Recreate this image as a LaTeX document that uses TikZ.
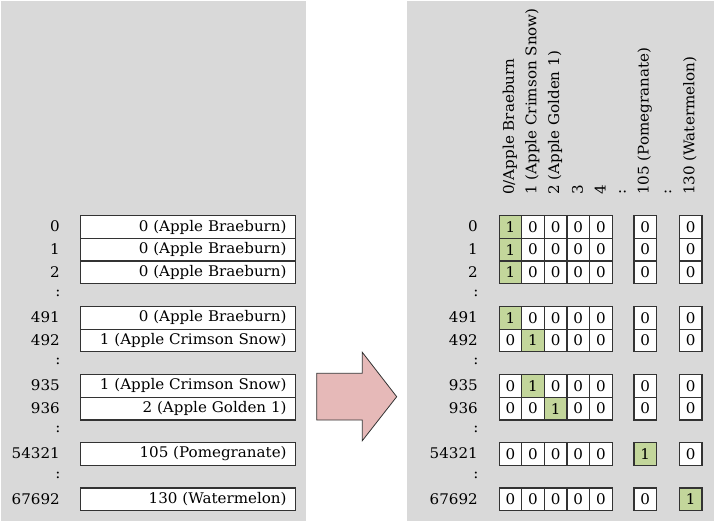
\documentclass[tikz,border=0pt]{standalone}
\usepackage{fontspec}
\setmainfont{DejaVu Serif}[FakeStretch=1.03]
\definecolor{panelgray}{HTML}{D9D9D9}
\definecolor{hitgreen}{HTML}{C3D69B}
\definecolor{arrowpink}{HTML}{E6B9B8}
\definecolor{edgegray}{HTML}{333333}
\begin{document}
\begin{tikzpicture}[x=0.75pt,y=-0.75pt,
  font=\fontsize{11}{13}\selectfont,
  panel/.style={fill=panelgray,draw=none},
  rowlab/.style={anchor=east,inner sep=0pt},
  valbox/.style={draw=edgegray,line width=0.9pt,fill=white,anchor=north west,
    text width=147.75pt,align=right,inner xsep=6.75pt,inner ysep=0pt,
    minimum height=17.03pt},
  offcell/.style={draw=edgegray,line width=0.9pt,fill=white,anchor=north west,
    inner sep=0pt,minimum width=16.95pt,minimum height=17.03pt},
  oncell/.style={offcell,fill=hitgreen},
  hdr/.style={rotate=90,anchor=west,inner sep=0pt},
  bigarrow/.style={fill=arrowpink,draw=edgegray,line width=0.6pt,line join=miter}
]
\useasboundingbox (0,0) rectangle (714,522);

% two grey panels
\fill[panel] (1,1) rectangle (306,521);
\fill[panel] (407,1) rectangle (714,521);

% ---- left panel: row index and encoded category ----
\foreach \s/\id/\v in {0/0/{0 (Apple Braeburn)},1/1/{0 (Apple Braeburn)},
    2/2/{0 (Apple Braeburn)},4/491/{0 (Apple Braeburn)},
    5/492/{1 (Apple Crimson Snow)},7/935/{1 (Apple Crimson Snow)},
    8/936/{2 (Apple Golden 1)},10/54321/{105 (Pomegranate)},
    12/67692/{130 (Watermelon)}}{
  \pgfmathsetmacro\t{215+22.7*\s}
  \node[valbox] (V\s) at (80,\t) {\v};
  \node[rowlab] (L\s) at (60,\t+11.35) {\id};
}
\foreach \s in {3,6,9,11}{
  \pgfmathsetmacro\t{215+22.7*\s}
  \node[inner sep=0pt] (LC\s) at (58,\t+10.5) {:};
}

% ---- transformation arrow ----
\draw[bigarrow] (316.7,373.3) -- (362.3,373.3) -- (362.3,352.3) -- (396.7,396.7)
  -- (362.3,440.7) -- (362.3,420) -- (316.7,420) -- cycle;

% ---- right panel: one-hot columns ----
\node[hdr] (H0) at (509.8,195) {0/Apple Braeburn};
\node[hdr] (H1) at (532.4,195) {1 (Apple Crimson Snow)};
\node[hdr] (H2) at (555.0,195) {2 (Apple Golden 1)};
\node[hdr] (H3) at (577.6,195) {3};
\node[hdr] (H4) at (600.2,195) {4};
\node[hdr] (HC1) at (622.5,195) {:};
\node[hdr] (H5) at (644.6,195) {105 (Pomegranate)};
\node[hdr] (HC2) at (668,195) {:};
\node[hdr] (H6) at (690,195) {130 (Watermelon)};

\foreach \s/\id/\g in {0/0/0,1/1/0,2/2/0,4/491/0,5/492/1,7/935/1,8/936/2,
    10/54321/5,12/67692/6}{
  \pgfmathsetmacro\t{215+22.7*\s}
  \node[rowlab] (R\s) at (478,\t+11.35) {\id};
  \foreach \j/\cx in {0/498.5,1/521.1,2/543.7,3/566.3,4/588.9,5/633.3,6/678.7}{
    \ifnum\j=\g
      \node[oncell] (C\s-\j) at (\cx,\t) {1};
    \else
      \node[offcell] (C\s-\j) at (\cx,\t) {0};
    \fi
  }
}
\foreach \s in {3,6,9,11}{
  \pgfmathsetmacro\t{215+22.7*\s}
  \node[inner sep=0pt] (RC\s) at (476,\t+10.5) {:};
}
\end{tikzpicture}
\end{document}
